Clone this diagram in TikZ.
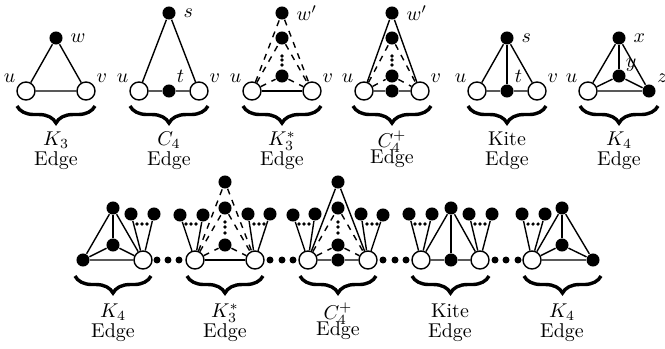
\documentclass[tikz,border=0pt]{standalone}
\usepackage{tikz}
\usetikzlibrary{decorations.pathreplacing}

\begin{document}
\begin{tikzpicture}[x=0.0176cm, y=-0.0176cm, line width=0.7pt,
    wnode/.style={circle, draw, fill=white, minimum size=0.317cm, inner sep=0pt},
    bnode/.style={circle, fill=black, minimum size=0.229cm, inner sep=0pt},
    link/.style={circle, fill=black, minimum size=0.123cm, inner sep=0pt},
    tiny/.style={circle, fill=black, minimum size=0.062cm, inner sep=0pt},
    lu/.style={label={[label distance=-3pt]155:$u$}},
    lv/.style={label={[label distance=-3pt]25:$v$}},
    ubrace/.style={decorate, decoration={brace, mirror, amplitude=0.3cm}, line width=1.7pt},
    lab/.style={align=center, inner sep=0pt}]
                \useasboundingbox (0,0) rectangle (665,348);

                % top row
                \node[wnode, lu] (au) at (26, 91) {};
                \node[wnode, lv] (av) at (86, 91) {};
                \node[bnode, label=right:$w$] (aw) at (56, 38) {};

                \node[wnode, lu] (bu) at (139, 91) {};
                \node[wnode, lv] (bv) at (199, 91) {};
                \node[bnode, label=right:$s$] (bs) at (169, 13) {};
                \node[bnode, label={[label distance=-3pt]65:$t$}] (bt) at (169, 91) {};

                \node[wnode, lu] (cu) at (252, 91) {};
                \node[wnode, lv] (cv) at (312, 91) {};
                \node[bnode, label=right:$w'$] (cw) at (282, 13) {};
                \node[bnode] (ca) at (282, 38) {};
                \node[bnode] (cb) at (282, 76) {};

                \node[wnode, lu] (du) at (364, 91) {};
                \node[wnode, lv] (dv) at (420, 91) {};
                \node[bnode, label=right:$w'$] (dw) at (392, 13) {};
                \node[bnode] (da) at (392, 38) {};
                \node[bnode] (db) at (392, 76) {};
                \node[bnode] (dt) at (392, 91) {};

                \node[wnode, lu] (eu) at (477, 91) {};
                \node[wnode, lv] (ev) at (537, 91) {};
                \node[bnode, label=right:$s$] (es) at (507, 38) {};
                \node[bnode, label={[label distance=-3pt]65:$t$}] (et) at (507, 91) {};

                \node[wnode, lu] (fu) at (588, 91) {};
                \node[bnode, label=right:$x$] (fx) at (619, 38) {};
                \node[bnode, label={[label distance=-5pt]80:$y$}] (fy) at (619, 76) {};
                \node[bnode, label={[label distance=-3pt]40:$z$}] (fz) at (649, 91) {};

                \foreach \x in {282, 392}
                    \foreach \y [count=\i] in {56, 60, 65}
                        \node[tiny] (v\x-\i) at (\x, \y) {};

                \draw (au) -- (av) -- (aw) -- (au);
                \draw (bu) -- (bt) -- (bv) -- (bs) -- (bu);
                \draw (cu) -- (cv);
                \draw[dashed] (cu) -- (cw) -- (cv);
                \draw[dashed] (cu) -- (ca) -- (cv);
                \draw[dashed] (cu) -- (cb) -- (cv);
                \draw (du) -- (dt) -- (dv) -- (dw) -- (du);
                \draw[dashed] (du) -- (da) -- (dv);
                \draw[dashed] (du) -- (db) -- (dv);
                \draw (eu) -- (et) -- (ev) -- (es) -- (eu);
                \draw (es) -- (et);
                \draw (fu) -- (fx) -- (fz) -- (fu);
                \draw (fu) -- (fy) -- (fz);
                \draw (fx) -- (fy);

                \foreach \x in {56, 169, 282, 392, 507, 619}
                    \draw[ubrace] (\x-39, 106) -- (\x+39, 106);
                \node[lab] (la) at (56, 151) {$K_3$\\[-2pt]Edge};
                \node[lab] (lb) at (169, 151) {$C_4$\\[-2pt]Edge};
                \node[lab] (lc) at (282, 151) {$K_3^*$\\[-2pt]Edge};
                \node[lab] (ld) at (392, 149) {$C_4^+$\\[-4pt]Edge};
                \node[lab] (le) at (507, 151) {Kite\\[-2pt]Edge};
                \node[lab] (lf) at (619, 151) {$K_4$\\[-2pt]Edge};

                % bottom row
                \node[bnode] (ga) at (83, 260) {};
                \node[bnode] (gx) at (113, 208) {};
                \node[bnode] (gy) at (113, 245) {};
                \node[wnode] (gw) at (143, 260) {};
                \node[bnode] (gp1) at (131, 214) {};
                \node[bnode] (gp2) at (154, 214) {};

                \node[wnode] (hu) at (195, 260) {};
                \node[wnode] (hv) at (255, 260) {};
                \node[bnode] (hw) at (225, 182) {};
                \node[bnode] (ha) at (225, 208) {};
                \node[bnode] (hb) at (225, 245) {};
                \node[bnode] (hp1) at (180, 215) {};
                \node[bnode] (hp2) at (203, 215) {};
                \node[bnode] (hq1) at (248, 214) {};
                \node[bnode] (hq2) at (270, 214) {};

                \node[wnode] (iu) at (308, 260) {};
                \node[wnode] (iv) at (368, 260) {};
                \node[bnode] (iw) at (338, 182) {};
                \node[bnode] (ia) at (338, 208) {};
                \node[bnode] (ib) at (338, 245) {};
                \node[bnode] (it) at (338, 260) {};
                \node[bnode] (ip1) at (293, 215) {};
                \node[bnode] (ip2) at (315, 214) {};
                \node[bnode] (iq1) at (361, 214) {};
                \node[bnode] (iq2) at (383, 215) {};

                \node[wnode] (ju) at (421, 260) {};
                \node[wnode] (jv) at (480, 260) {};
                \node[bnode] (js) at (451, 208) {};
                \node[bnode] (jt) at (451, 260) {};
                \node[bnode] (jp1) at (409, 214) {};
                \node[bnode] (jp2) at (432, 214) {};
                \node[bnode] (jq1) at (469, 214) {};
                \node[bnode] (jq2) at (492, 214) {};

                \node[wnode] (kw) at (532, 260) {};
                \node[bnode] (kx) at (562, 208) {};
                \node[bnode] (ky) at (562, 245) {};
                \node[bnode] (kz) at (593, 260) {};
                \node[bnode] (kp1) at (522, 214) {};
                \node[bnode] (kp2) at (545, 214) {};

                \foreach \x in {157, 168, 179, 270, 282, 293, 383, 395, 406, 495, 506, 518}
                    \node[link] (l\x) at (\x, 260) {};
                \foreach \m in {142, 191, 259, 304, 372, 420, 480, 533}
                    \foreach \d [count=\i] in {-5, 0, 5}
                        \node[tiny] (p\m-\i) at (\m+\d, 224) {};
                \foreach \x in {225, 338}
                    \foreach \y [count=\i] in {222, 227, 233}
                        \node[tiny] (q\x-\i) at (\x, \y) {};

                \draw (ga) -- (gx) -- (gw) -- (ga);
                \draw (ga) -- (gy) -- (gw);
                \draw (gx) -- (gy);
                \draw (gp1) -- (gw) -- (gp2);
                \draw (hu) -- (hv);
                \draw[dashed] (hu) -- (hw) -- (hv);
                \draw[dashed] (hu) -- (ha) -- (hv);
                \draw[dashed] (hu) -- (hb) -- (hv);
                \draw (hp1) -- (hu) -- (hp2);
                \draw (hq1) -- (hv) -- (hq2);
                \draw (iu) -- (it) -- (iv) -- (iw) -- (iu);
                \draw[dashed] (iu) -- (ia) -- (iv);
                \draw[dashed] (iu) -- (ib) -- (iv);
                \draw (ip1) -- (iu) -- (ip2);
                \draw (iq1) -- (iv) -- (iq2);
                \draw (ju) -- (jt) -- (jv) -- (js) -- (ju);
                \draw (js) -- (jt);
                \draw (jp1) -- (ju) -- (jp2);
                \draw (jq1) -- (jv) -- (jq2);
                \draw (kw) -- (kx) -- (kz) -- (kw);
                \draw (kw) -- (ky) -- (kz);
                \draw (kx) -- (ky);
                \draw (kp1) -- (kw) -- (kp2);

                \foreach \a/\b in {75/151, 187/263, 300/376, 412/489, 524/601}
                    \draw[ubrace] (\a, 276) -- (\b, 276);
                \node[lab] (lg) at (113, 323) {$K_4$\\[-2pt]Edge};
                \node[lab] (lh) at (225, 323) {$K_3^*$\\[-2pt]Edge};
                \node[lab] (li) at (338, 321) {$C_4^+$\\[-4pt]Edge};
                \node[lab] (lj) at (450, 323) {Kite\\[-2pt]Edge};
                \node[lab] (lk) at (562, 323) {$K_4$\\[-2pt]Edge};
            \end{tikzpicture}
\end{document}
